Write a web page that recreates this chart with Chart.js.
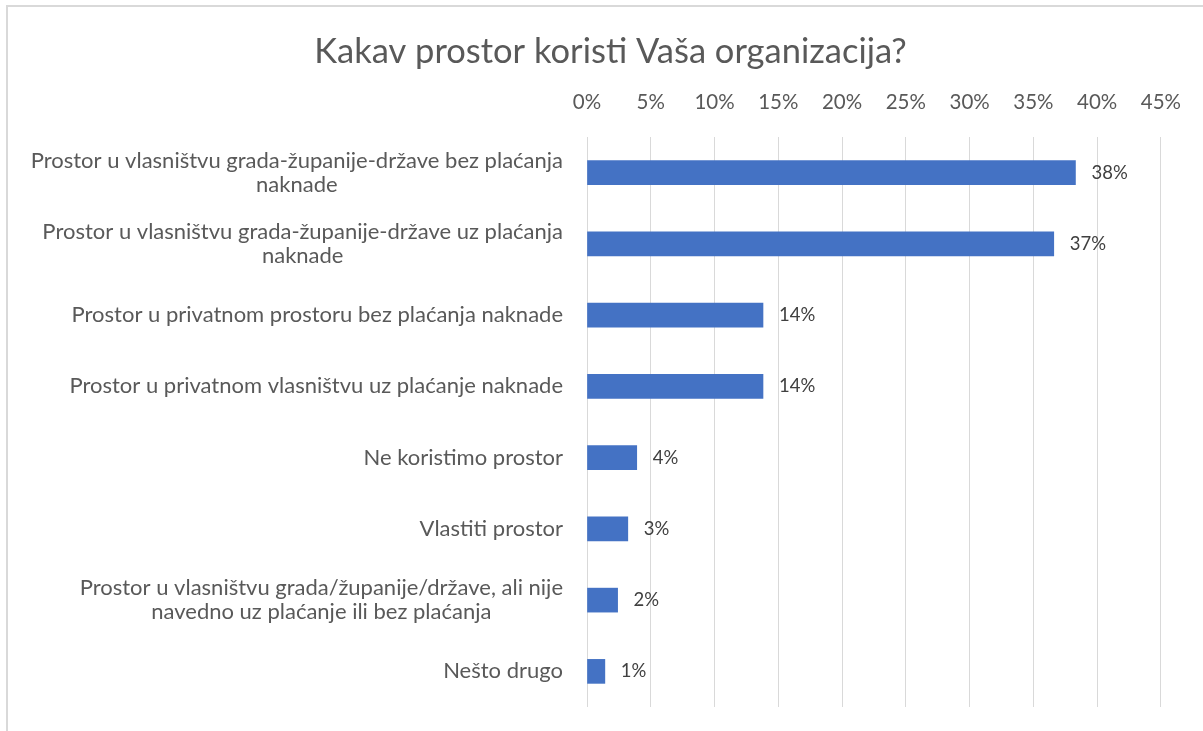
<!DOCTYPE html>
<html>
<head>
<meta charset="utf-8">
<script src="https://cdn.jsdelivr.net/npm/chart.js@4/dist/chart.umd.min.js"></script>
<style>
  html, body { margin: 0; padding: 0; background: #ffffff; }
  #wrap { position: absolute; left: 0; top: 0; width: 1203px; height: 731px; }
  #frame { position: absolute; left: 6px; top: 5px; width: 1300px; height: 800px;
           border-left: 2px solid #d9d9d9; border-top: 2px solid #d9d9d9; }
  canvas { position: absolute; left: 0; top: 0; }
</style>
</head>
<body>
<div id="wrap">
  <div id="frame"></div>
  <canvas id="c" width="1203" height="731"></canvas>
</div>
<script>
const titleText = "Kakav prostor koristi Vaša organizacija?";
const categories = [
  ["Prostor u vlasništvu grada-županije-države bez plaćanja", "naknade"],
  ["Prostor u vlasništvu grada-županije-države uz plaćanja", "naknade"],
  ["Prostor u privatnom prostoru bez plaćanja naknade"],
  ["Prostor u privatnom vlasništvu uz plaćanje naknade"],
  ["Ne koristimo prostor"],
  ["Vlastiti prostor"],
  ["Prostor u vlasništvu grada/županije/države, ali nije", "navedno uz plaćanje ili bez plaćanja"],
  ["Nešto drugo"]
];
const values = [38.3, 36.6, 13.8, 13.8, 3.9, 3.2, 2.4, 1.4];
const tickValues = [0, 5, 10, 15, 20, 25, 30, 35, 40, 45];

const FONT = "Lato, 'Open Sans', sans-serif";

const categoryLabelsPlugin = {
  id: 'categoryLabels',
  afterDraw(chart) {
    const ctx = chart.ctx;
    const y = chart.scales.y;
    const right = chart.chartArea.left - 24;
    ctx.save();
    ctx.font = "22px " + FONT;
    ctx.fillStyle = "#595959";
    ctx.textAlign = "center";
    ctx.textBaseline = "middle";
    const lh = 24;
    chart.data.labels.forEach((lines, i) => {
      const cy = y.getPixelForValue(i);
      let maxW = 0;
      lines.forEach(l => { maxW = Math.max(maxW, ctx.measureText(l).width); });
      const cx = right - maxW / 2;
      lines.forEach((l, j) => {
        ctx.fillText(l, cx, cy + (j - (lines.length - 1) / 2) * lh);
      });
    });
    ctx.restore();
  }
};

const valueLabelsPlugin = {
  id: 'valueLabels',
  afterDatasetsDraw(chart) {
    const ctx = chart.ctx;
    const meta = chart.getDatasetMeta(0);
    ctx.save();
    ctx.font = "18.5px " + FONT;
    ctx.fillStyle = "#404040";
    ctx.textAlign = "left";
    ctx.textBaseline = "middle";
    meta.data.forEach((bar, i) => {
      const v = chart.data.datasets[0].data[i];
      ctx.fillText(Math.round(v) + "%", bar.x + 16, bar.y);
    });
    ctx.restore();
  }
};

new Chart(document.getElementById('c'), {
  type: 'bar',
  data: {
    labels: categories,
    datasets: [{
      data: values,
      backgroundColor: '#4472C4',
      borderWidth: 0,
      barThickness: 24
    }]
  },
  options: {
    indexAxis: 'y',
    responsive: false,
    animation: false,
    layout: { padding: { left: 60, right: 42, top: 0, bottom: 24 } },
    plugins: {
      legend: { display: false },
      tooltip: { enabled: false },
      title: {
        display: true,
        text: titleText,
        color: '#595959',
        font: { family: FONT, size: 34.5, weight: 'normal', lineHeight: 1.2 },
        padding: { top: 31, bottom: 0 }
      }
    },
    scales: {
      x: {
        position: 'top',
        min: 0,
        max: 45,
        afterBuildTicks(scale) { scale.ticks = tickValues.map(v => ({ value: v })); },
        afterFit(scale) { scale.height = 64.6; },
        grid: { color: '#d9d9d9', lineWidth: 1, drawTicks: false },
        border: { display: false },
        ticks: {
          color: '#595959',
          font: { family: FONT, size: 20.5 },
          padding: 22,
          callback: v => v + '%'
        }
      },
      y: {
        afterFit(scale) { scale.width = 527; },
        grid: { display: false },
        border: { display: false },
        ticks: { display: false }
      }
    }
  },
  plugins: [categoryLabelsPlugin, valueLabelsPlugin]
});
</script>
</body>
</html>
